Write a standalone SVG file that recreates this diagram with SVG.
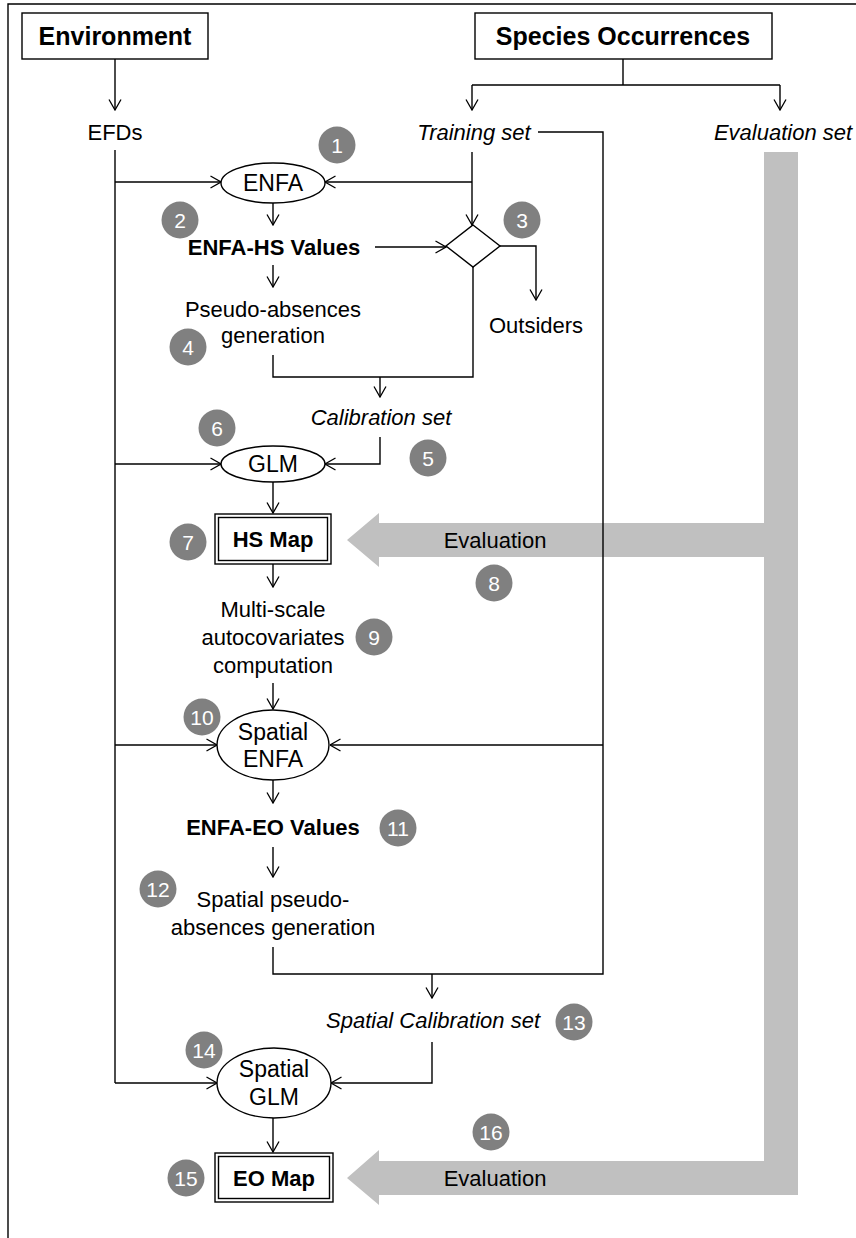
<svg xmlns="http://www.w3.org/2000/svg" width="856" height="1238" viewBox="0 0 856 1238">
<style>
text{font-family:"Liberation Sans",Arial,sans-serif;fill:#000;}
.hdr{font-size:25px;font-weight:bold;text-anchor:middle;}
.t{font-size:22px;text-anchor:middle;}
.e{font-size:23px;text-anchor:middle;}
.b{font-size:22px;font-weight:bold;text-anchor:middle;}
.bm{font-size:22px;font-weight:bold;text-anchor:middle;}
.i{font-size:22px;font-style:italic;text-anchor:middle;}
.box{fill:#fff;stroke:#000;stroke-width:1.4;}
.ln{fill:none;stroke:#000;stroke-width:1.4;}
.arr{fill:none;stroke:#000;stroke-width:1.4;marker-end:url(#ah);}
.badge circle{fill:#808080;}
.badge text{fill:#fff;font-size:21px;text-anchor:middle;}
.big{fill:#c0c0c0;}
</style>
<defs>
<marker id="ah" viewBox="0 0 12 14" refX="11.5" refY="7" markerWidth="12" markerHeight="14" markerUnits="userSpaceOnUse" orient="auto">
<path d="M1,1 L11.5,7 L1,13" fill="none" stroke="#000" stroke-width="1.3"/>
</marker>
</defs>
<rect width="856" height="1238" fill="#fff"/>
<g id="frame" class="ln">
<path d="M8,1238 V4 H856"/>
</g>
<g id="eval-arrows">
<rect class="big" x="764" y="152" width="34" height="1043"/>
<polygon class="big" points="347,540 379,513 379,523 764,523 764,557 379,557 379,567"/>
<polygon class="big" points="347,1178 379,1150 379,1161 764,1161 764,1195 379,1195 379,1205"/>
<text class="t" x="495" y="548">Evaluation</text>
<text class="t" x="495" y="1186">Evaluation</text>
</g>
<g id="connectors">
<path class="arr" d="M115,59 V110"/>
<path class="ln" d="M623,59 V85 M472,85 H780"/>
<path class="arr" d="M472,85 V110"/>
<path class="arr" d="M780,85 V110"/>
<path class="ln" d="M115,150 V1083"/>
<path class="arr" d="M115,182 H221"/>
<path class="arr" d="M115,464 H221"/>
<path class="arr" d="M115,745 H217"/>
<path class="arr" d="M115,1083 H217"/>
<path class="arr" d="M472,152 V225"/>
<path class="arr" d="M472,182 H325"/>
<path class="ln" d="M538,132 H603 V974 H273 V947"/>
<path class="arr" d="M603,745 H330"/>
<path class="arr" d="M432,974 V998"/>
<path class="arr" d="M273,203 V225"/>
<path class="arr" d="M375,247 H446"/>
<path class="arr" d="M500,246 H536 V300"/>
<path class="arr" d="M273,265 V287"/>
<path class="ln" d="M473,267 V377 H273 V355"/>
<path class="arr" d="M380,377 V397"/>
<path class="arr" d="M380,437 V464 H325"/>
<path class="arr" d="M273,482 V513"/>
<path class="arr" d="M273,564 V587"/>
<path class="arr" d="M273,683 V709"/>
<path class="arr" d="M273,780 V803"/>
<path class="arr" d="M273,847 V877"/>
<path class="arr" d="M432,1042 V1083 H331"/>
<path class="arr" d="M273,1118 V1152"/>
</g>
<g id="environment">
<rect class="box" x="22" y="13" width="186" height="46"/>
<text class="hdr" x="115" y="45">Environment</text>
</g>
<g id="species">
<rect class="box" x="475" y="13" width="297" height="46"/>
<text class="hdr" x="623" y="45">Species Occurrences</text>
</g>
<g id="efds"><text class="t" x="115" y="140">EFDs</text></g>
<g id="training"><text class="i" x="474" y="140">Training set</text></g>
<g id="evaluation-set"><text class="i" x="783" y="140">Evaluation set</text></g>
<g id="enfa">
<ellipse class="box" cx="273" cy="183" rx="52" ry="20"/>
<text class="e" x="273" y="191">ENFA</text>
</g>
<g id="enfa-hs"><text class="b" x="274" y="255">ENFA-HS Values</text></g>
<g id="diamond"><polygon class="box" points="473,225 500,246 473,267 446,246"/></g>
<g id="outsiders"><text class="t" x="536" y="333">Outsiders</text></g>
<g id="pseudo">
<text class="t" x="273" y="317">Pseudo-absences</text>
<text class="t" x="273" y="343">generation</text>
</g>
<g id="calibration"><text class="i" x="381" y="425">Calibration set</text></g>
<g id="glm">
<ellipse class="box" cx="273" cy="464" rx="52" ry="18"/>
<text class="e" x="273" y="472">GLM</text>
</g>
<g id="hsmap">
<rect class="box" x="215" y="514" width="116" height="50"/>
<rect class="box" x="218.5" y="517.5" width="109" height="43"/>
<text class="bm" x="273" y="547">HS Map</text>
</g>
<g id="multiscale">
<text class="t" x="273" y="617">Multi-scale</text>
<text class="t" x="273" y="645">autocovariates</text>
<text class="t" x="273" y="673">computation</text>
</g>
<g id="spatial-enfa">
<ellipse class="box" cx="273" cy="745" rx="56" ry="35"/>
<text class="e" x="273" y="740">Spatial</text>
<text class="e" x="273" y="767">ENFA</text>
</g>
<g id="enfa-eo"><text class="b" x="273" y="835">ENFA-EO Values</text></g>
<g id="spatial-pseudo">
<text class="t" x="273" y="907">Spatial pseudo-</text>
<text class="t" x="273" y="935">absences generation</text>
</g>
<g id="spatial-calibration"><text class="i" x="433" y="1028">Spatial Calibration set</text></g>
<g id="spatial-glm">
<ellipse class="box" cx="274" cy="1083" rx="57" ry="35"/>
<text class="e" x="274" y="1077">Spatial</text>
<text class="e" x="274" y="1105">GLM</text>
</g>
<g id="eomap">
<rect class="box" x="215" y="1153" width="118" height="49"/>
<rect class="box" x="218.5" y="1156.5" width="111" height="42"/>
<text class="bm" x="274" y="1186">EO Map</text>
</g>
<g id="badges" class="badge">
<g id="b1"><circle cx="337" cy="145" r="18.5"/><text x="337" y="152.5">1</text></g>
<g id="b2"><circle cx="180" cy="220" r="18.5"/><text x="180" y="227.5">2</text></g>
<g id="b3"><circle cx="522" cy="220" r="18.5"/><text x="522" y="227.5">3</text></g>
<g id="b4"><circle cx="188" cy="347" r="18.5"/><text x="188" y="354.5">4</text></g>
<g id="b5"><circle cx="428" cy="458" r="18.5"/><text x="428" y="465.5">5</text></g>
<g id="b6"><circle cx="217" cy="428" r="18.5"/><text x="217" y="435.5">6</text></g>
<g id="b7"><circle cx="188" cy="542" r="18.5"/><text x="188" y="549.5">7</text></g>
<g id="b8"><circle cx="494" cy="583" r="18.5"/><text x="494" y="590.5">8</text></g>
<g id="b9"><circle cx="374" cy="637" r="18.5"/><text x="374" y="644.5">9</text></g>
<g id="b10"><circle cx="202" cy="717" r="18.5"/><text x="202" y="724.5">10</text></g>
<g id="b11"><circle cx="398" cy="828" r="18.5"/><text x="398" y="835.5">11</text></g>
<g id="b12"><circle cx="158" cy="889" r="18.5"/><text x="158" y="896.5">12</text></g>
<g id="b13"><circle cx="574" cy="1022" r="18.5"/><text x="574" y="1029.5">13</text></g>
<g id="b14"><circle cx="204" cy="1050" r="18.5"/><text x="204" y="1057.5">14</text></g>
<g id="b15"><circle cx="186" cy="1178" r="18.5"/><text x="186" y="1185.5">15</text></g>
<g id="b16"><circle cx="491" cy="1132" r="18.5"/><text x="491" y="1139.5">16</text></g>
</g>
</svg>
